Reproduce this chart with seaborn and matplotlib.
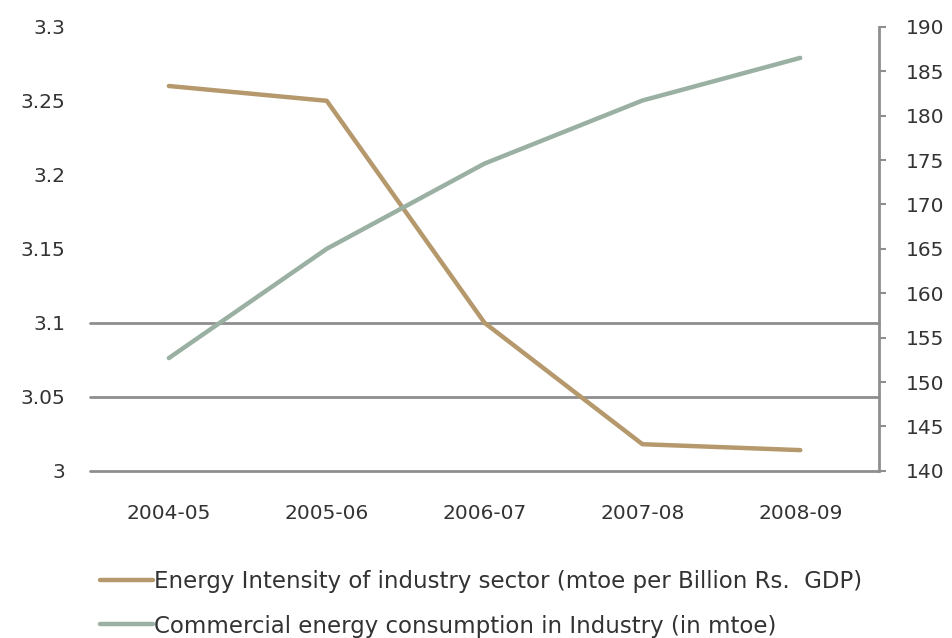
import matplotlib
matplotlib.use("Agg")
import matplotlib.pyplot as plt
import seaborn as sns
import pandas as pd

# Fiscal years shown on the category axis
years = ["2004-05", "2005-06", "2006-07", "2007-08", "2008-09"]

# Energy intensity of the industry sector (mtoe per billion Rs. GDP), left axis
intensity = [3.26, 3.25, 3.10, 3.018, 3.014]

# Commercial energy consumption in industry (mtoe), right axis
consumption = [152.7, 165.0, 174.6, 181.7, 186.5]

left_ticks = [3, 3.05, 3.1, 3.15, 3.2, 3.25, 3.3]
right_ticks = [140, 145, 150, 155, 160, 165, 170, 175, 180, 185, 190]
grid_levels = [3.0, 3.05, 3.1]

label_intensity = "Energy Intensity of industry sector (mtoe per Billion Rs.  GDP)"
label_consumption = "Commercial energy consumption in Industry (in mtoe)"

brown = "#B5986C"
green = "#9AB0A2"
grid_grey = "#8E8E8E"
text_col = "#333333"

sns.set_theme(style="white")
plt.rcParams["font.family"] = ["DejaVu Sans"]

df = pd.DataFrame({"year": years, "intensity": intensity, "consumption": consumption})

fig = plt.figure(figsize=(9.52, 6.38), dpi=100)
ax = fig.add_axes([0.0945, 0.262, 0.829, 0.696])
ax2 = ax.twinx()

for lvl in grid_levels:
    ax.axhline(lvl, color=grid_grey, lw=2.0, zorder=0, clip_on=False)

sns.lineplot(data=df, x="year", y="intensity", ax=ax, color=brown, lw=3.2,
             sort=False, label=label_intensity, legend=False)
sns.lineplot(data=df, x="year", y="consumption", ax=ax2, color=green, lw=3.2,
             sort=False, label=label_consumption, legend=False)

ax.set_xlim(-0.5, len(years) - 0.5)
ax.set_ylim(3.0, 3.3)
ax.set_yticks(left_ticks)
ax.set_yticklabels([f"{t:g}" for t in left_ticks])
ax2.set_ylim(140, 190)
ax2.set_yticks(right_ticks)

ax.set_xlabel("")
ax.set_ylabel("")
ax2.set_ylabel("")

for a in (ax, ax2):
    for s in a.spines.values():
        s.set_visible(False)
ax2.spines["right"].set_visible(True)
ax2.spines["right"].set_color(grid_grey)
ax2.spines["right"].set_linewidth(2.0)

ax.tick_params(axis="y", length=0, pad=18, labelsize=14.5, labelcolor=text_col)
ax.tick_params(axis="x", length=0, pad=24, labelsize=14.5, labelcolor=text_col)
ax2.tick_params(axis="y", direction="out", length=5, width=1.5, color=grid_grey,
                pad=14, labelsize=14.5, labelcolor=text_col)

h1, _ = ax.get_legend_handles_labels()
h2, _ = ax2.get_legend_handles_labels()
fig.legend(h1 + h2, [label_intensity, label_consumption],
           loc="upper left", bbox_to_anchor=(0.105, 0.107), bbox_transform=fig.transFigure,
           frameon=False, fontsize=16.5, handlelength=2.3, handletextpad=0.05,
           labelspacing=0.95, borderaxespad=0, borderpad=0, labelcolor=text_col)

fig.savefig("out.png", dpi=100)
